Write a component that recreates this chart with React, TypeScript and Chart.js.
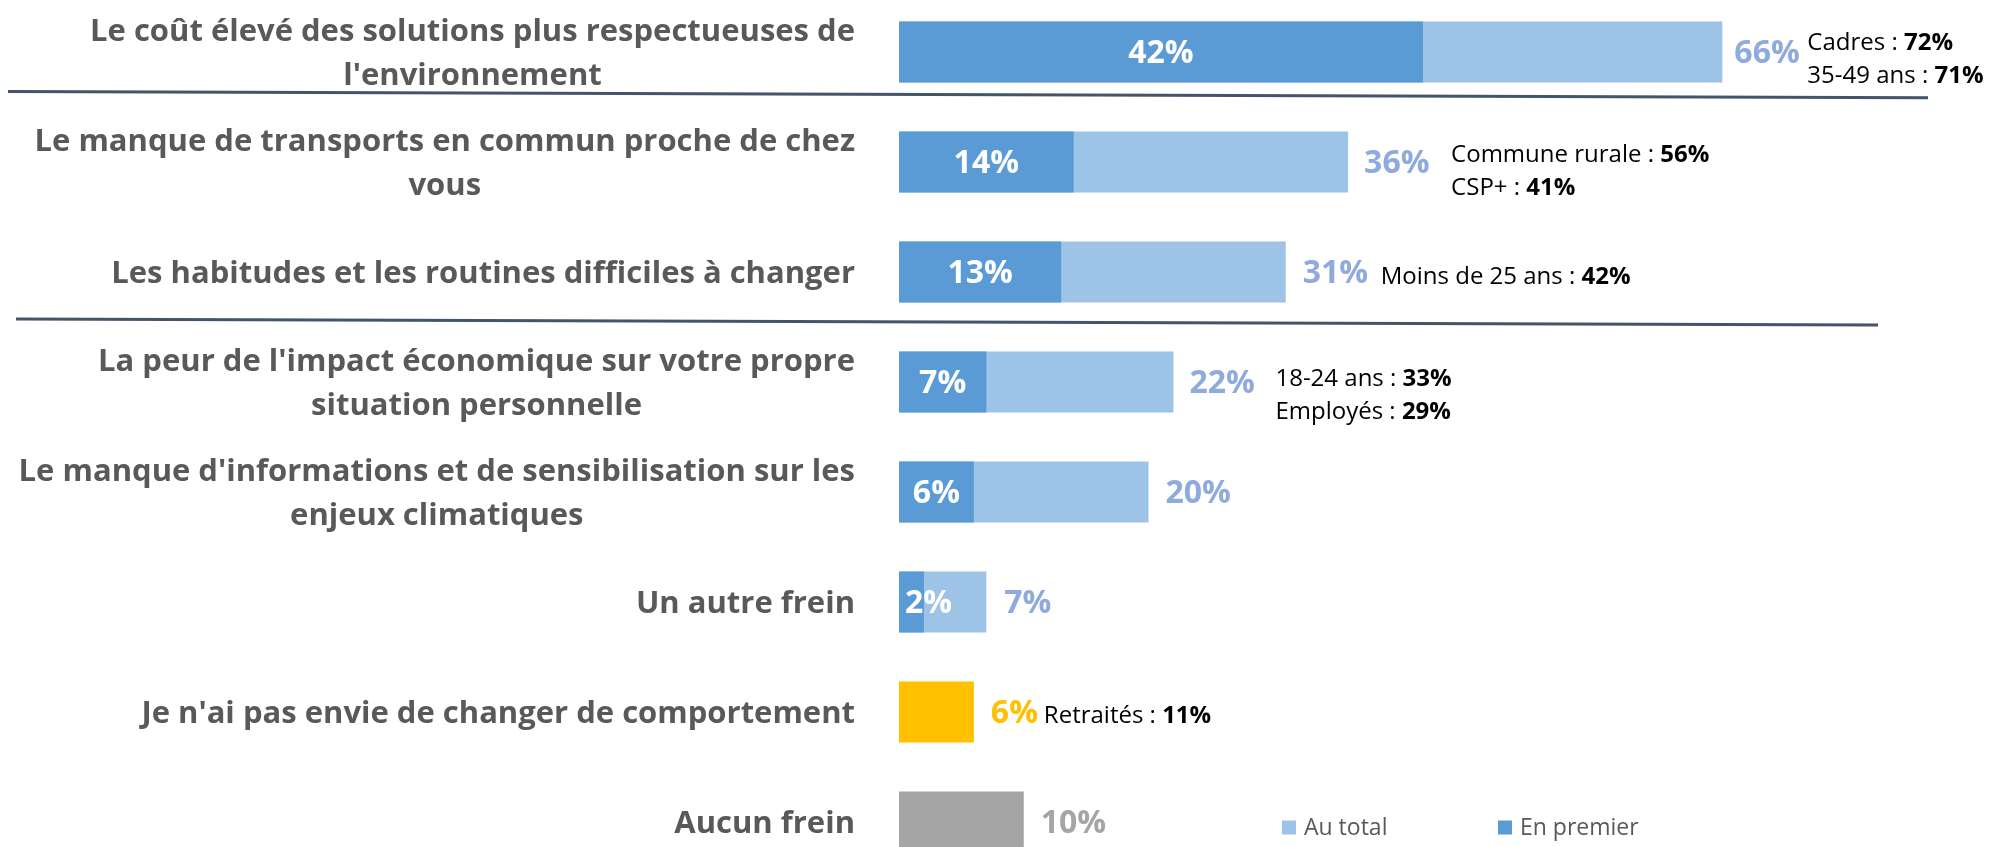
import React, { useEffect, useRef } from 'react';
import { Chart, registerables } from 'chart.js';

Chart.register(...registerables);

// ---------- DATA ----------
const categories: string[][] = [
  ["Le coût élevé des solutions plus respectueuses de", "l'environnement"],
  ["Le manque de transports en commun proche de chez", "vous"],
  ["Les habitudes et les routines difficiles à changer"],
  ["La peur de l'impact économique sur votre propre", "situation personnelle"],
  ["Le manque d'informations et de sensibilisation sur les", "enjeux climatiques"],
  ["Un autre frein"],
  ["Je n'ai pas envie de changer de comportement"],
  ["Aucun frein"],
];

const seriesNames = ["Au total", "En premier"];
const auTotal: number[] = [66, 36, 31, 22, 20, 7, 6, 10];
const enPremier: (number | null)[] = [42, 14, 13, 7, 6, 2, null, null];

// sub-group call-outs: [regular part, bold part]
const callouts: [string, string][][] = [
  [["Cadres : ", "72%"], ["35-49 ans : ", "71%"]],
  [["Commune rurale : ", "56%"], ["CSP+ : ", "41%"]],
  [["Moins de 25 ans : ", "42%"]],
  [["18-24 ans : ", "33%"], ["Employés : ", "29%"]],
  [],
  [],
  [["Retraités : ", "11%"]],
  [],
];

// ---------- STYLE ----------
const FONT = "'Open Sans', 'Noto Sans', sans-serif";
const DARK_BLUE = '#5B9BD5';
const LIGHT_BLUE = '#9DC3E6';
const totalBarColors = [LIGHT_BLUE, LIGHT_BLUE, LIGHT_BLUE, LIGHT_BLUE, LIGHT_BLUE, LIGHT_BLUE, '#FFC000', '#A5A5A5'];
const totalLabelColors = ['#8FAADC', '#8FAADC', '#8FAADC', '#8FAADC', '#8FAADC', '#8FAADC', '#FFC000', '#A5A5A5'];
const totalLabelGap = [12, 16, 17, 16, 17, 18, 17, 17];
const calloutOffset = [85, 103, 95, 102, 0, 0, 70, 0];
const calloutDy = [-8.5, -6.5, 5.5, -2.5, 0, 0, 4, 0];
const calloutLineH = 33;

const overlayPlugin = {
  id: 'overlay',
  afterDatasetsDraw(chart: any) {
    const ctx: CanvasRenderingContext2D = chart.ctx;
    const yScale = chart.scales.y;
    const area = chart.chartArea;
    const metaTotal = chart.getDatasetMeta(0);
    const metaFirst = chart.getDatasetMeta(1);
    ctx.save();

    // separators
    ctx.strokeStyle = '#44546A';
    ctx.lineWidth = 3;
    const y0 = yScale.getPixelForValue(0);
    const y2 = yScale.getPixelForValue(2);
    ctx.beginPath();
    ctx.moveTo(8, y0 + 39.5);
    ctx.lineTo(1928, y0 + 45.8);
    ctx.stroke();
    ctx.beginPath();
    ctx.moveTo(16, y2 + 47);
    ctx.lineTo(1878, y2 + 53);
    ctx.stroke();

    // category labels (block right-aligned, lines centered)
    ctx.font = `bold 31px ${FONT}`;
    ctx.fillStyle = '#595959';
    ctx.textBaseline = 'middle';
    ctx.textAlign = 'center';
    const labelRight = area.left - 44;
    categories.forEach((lines, i) => {
      const cy = yScale.getPixelForValue(i);
      const bw = Math.max(...lines.map((l) => ctx.measureText(l).width));
      const cx = labelRight - bw / 2;
      lines.forEach((l, k) => {
        ctx.fillText(l, cx, cy + (k - (lines.length - 1) / 2) * 44 + 2.5);
      });
    });

    // inside labels for "En premier"
    ctx.font = `bold 32px ${FONT}`;
    ctx.fillStyle = '#FFFFFF';
    enPremier.forEach((v, j) => {
      if (v == null) return;
      const el = metaFirst.data[j];
      const txt = `${v}%`;
      const w = ctx.measureText(txt).width;
      const left = Math.min(el.base, el.x);
      const right = Math.max(el.base, el.x);
      const cx = Math.max((left + right) / 2, left + 6 + w / 2);
      ctx.fillText(txt, cx, el.y + 2);
    });

    // total labels
    ctx.textAlign = 'left';
    auTotal.forEach((v, j) => {
      const el = metaTotal.data[j];
      ctx.font = `bold 32px ${FONT}`;
      ctx.fillStyle = totalLabelColors[j];
      ctx.fillText(`${v}%`, el.x + totalLabelGap[j], el.y + 2);

      // call-outs
      const lines = callouts[j];
      lines.forEach(([reg, bold], k) => {
        const x = el.x + calloutOffset[j];
        const y = el.y + calloutDy[j] + k * calloutLineH;
        ctx.fillStyle = '#000000';
        ctx.font = `24px ${FONT}`;
        ctx.fillText(reg, x, y);
        const w = ctx.measureText(reg).width;
        ctx.font = `bold 24px ${FONT}`;
        ctx.fillText(bold, x + w, y);
      });
    });

    // legend
    const lastY = yScale.getPixelForValue(categories.length - 1) + 5.5;
    const legendColors = [LIGHT_BLUE, DARK_BLUE];
    const legendX = [area.left + 383, area.left + 599];
    ctx.font = `23px ${FONT}`;
    seriesNames.forEach((name, k) => {
      ctx.fillStyle = legendColors[k];
      ctx.fillRect(legendX[k], lastY - 7, 14, 14);
      ctx.fillStyle = '#595959';
      ctx.fillText(name, legendX[k] + 22, lastY + 1);
    });

    ctx.restore();
  },
};

export default function App() {
  const ref = useRef<HTMLCanvasElement | null>(null);

  useEffect(() => {
    if (!ref.current) return;
    const chart = new Chart(ref.current, {
      type: 'bar',
      data: {
        labels: categories,
        datasets: [
          {
            label: seriesNames[0],
            data: auTotal,
            backgroundColor: totalBarColors,
            grouped: false,
            order: 2,
            barPercentage: 0.555,
            categoryPercentage: 1,
            borderWidth: 0,
          } as any,
          {
            label: seriesNames[1],
            data: enPremier,
            backgroundColor: DARK_BLUE,
            grouped: false,
            order: 1,
            barPercentage: 0.555,
            categoryPercentage: 1,
            borderWidth: 0,
          } as any,
        ],
      },
      options: {
        indexAxis: 'y',
        responsive: false,
        animation: false,
        layout: { padding: { left: 899, right: 95, top: 0, bottom: 0 } },
        scales: {
          x: { display: false, min: 0, max: 80 },
          y: { display: false },
        },
        plugins: {
          legend: { display: false },
          tooltip: { enabled: false },
        },
      },
      plugins: [overlayPlugin],
    });
    return () => chart.destroy();
  }, []);

  return (
    <div
      style={{
        position: 'absolute',
        left: 0,
        top: 0,
        width: 1992,
        height: 847,
        overflow: 'hidden',
        background: '#ffffff',
      }}
    >
      <canvas
        ref={ref}
        width={1992}
        height={880}
        style={{ position: 'absolute', left: 0, top: -3.5, width: 1992, height: 880 }}
      />
    </div>
  );
}
